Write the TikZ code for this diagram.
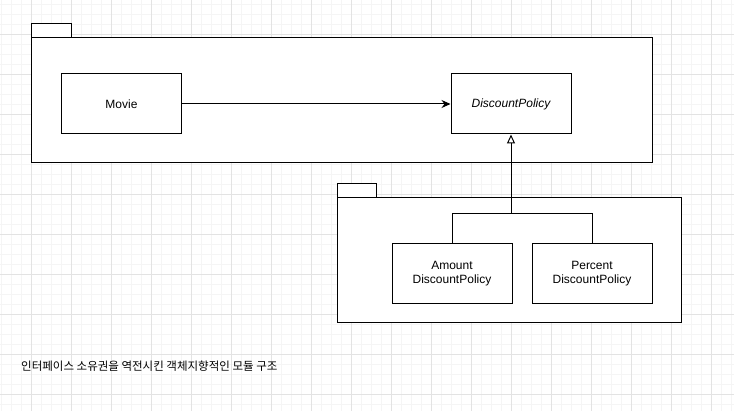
\documentclass[tikz,border=0pt]{standalone}
\usepackage{fontspec}
\setmainfont{Liberation Sans}
\newfontfamily\krfont{Noto Sans CJK KR}
\usetikzlibrary{arrows.meta}
\begin{document}
\begin{tikzpicture}[x=1pt,y=-1pt,
  minorgrid/.style={draw=black!4, line width=0.8pt},
  majorgrid/.style={draw=black!11, line width=0.8pt},
  pkg/.style={draw=black, line width=1pt, fill=white},
  cls/.style={draw=black, line width=1pt, fill=white, minimum width=120pt, minimum height=60pt, inner sep=0pt, align=center, font=\fontsize{12}{14}\selectfont},
  conn/.style={draw=black, line width=1pt}]
\useasboundingbox (0,0) rectangle (734,411);
\fill[white] (0,0) rectangle (734,411);
% grid
\foreach \i in {0,...,73} {\draw[minorgrid] (1.7+10*\i,0) -- (1.7+10*\i,411);}
\foreach \i in {0,...,41} {\draw[minorgrid] (0,4.3+10*\i) -- (734,4.3+10*\i);}
\foreach \i in {0,...,18} {\draw[majorgrid] (31.7+40*\i,0) -- (31.7+40*\i,411);}
\foreach \i in {0,...,9} {\draw[majorgrid] (0,34.3+40*\i) -- (734,34.3+40*\i);}
% package 1
\path[pkg] (31,24) rectangle (71,38);
\path[pkg] (31,38) rectangle (652,163);
% package 2
\path[pkg] (337,184) rectangle (376,198);
\path[pkg] (337,198) rectangle (681,323);
% classes
\node[cls] (movie) at (121.5,104) {Movie};
\node[cls, font=\fontsize{12}{14}\selectfont\itshape] (dp) at (511,104) {DiscountPolicy};
\node[cls] (amount) at (452,274) {Amount\\DiscountPolicy};
\node[cls] (percent) at (592,274) {Percent\\DiscountPolicy};
% connectors
\coordinate (j) at (511,214);
\coordinate (ja) at (452,214);
\coordinate (jp) at (592,214);
\draw[conn, -{Stealth[length=9pt, width=8pt]}] (movie) -- (dp);
\draw[conn] (amount.north) -- (ja) -- (jp) -- (percent.north);
\draw[conn, -{Triangle[open, length=9pt, width=8pt, fill=white]}] (j) -- (dp.south);
% caption
\node[anchor=west, inner sep=0pt, font=\krfont\fontsize{11.5}{13.5}\selectfont] (cap) at (21,366) {인터페이스 소유권을 역전시킨 객체지향적인 모듈 구조};
\end{tikzpicture}
\end{document}
